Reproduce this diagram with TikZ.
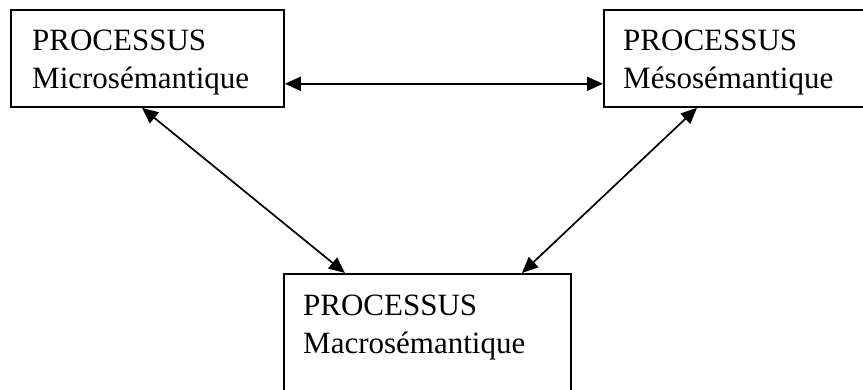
\documentclass[tikz,border=0pt]{standalone}
\usepackage{fontspec}
\setmainfont{Liberation Serif}
\usetikzlibrary{arrows.meta,calc}
\begin{document}
\begin{tikzpicture}[x=1pt,y=-1pt,
  procbox/.style={draw,line width=1.8pt,rectangle,inner sep=0pt,anchor=north west},
  proctext/.style={anchor=base west,inner sep=0pt,font=\fontsize{31}{37}\selectfont},
  link/.style={line width=1.7pt,{Triangle[length=16pt,width=14pt]}-{Triangle[length=16pt,width=14pt]}}]
\useasboundingbox (0,0) rectangle (863,390);
\clip (0,0) rectangle (863,390);
% the three process boxes
\node[procbox,minimum width=273pt,minimum height=97pt] (micro) at (10,9) {};
\node[procbox,minimum width=300pt,minimum height=97pt] (meso) at (603,9) {};
\node[procbox,minimum width=287pt,minimum height=140pt] (macro) at (283,273) {};
% their labels
\node[proctext] (microA) at (32,51) {PROCESSUS};
\node[proctext] (microB) at (32,89) {Microsémantique};
\node[proctext] (mesoA) at (623,51) {PROCESSUS};
\node[proctext] (mesoB) at (623,89) {Mésosémantique};
\node[proctext] (macroA) at (303,316) {PROCESSUS};
\node[proctext] (macroB) at (303,353) {Macrosémantique};
% two-way links between the processes
\draw[link] ($(micro.south east)+(0,-24)$) coordinate (h) -- (h -| meso.west);
\draw[link] ($(micro.south west)+(132,0)$) -- ($(macro.north west)+(62,0)$);
\draw[link] ($(meso.south west)+(94,0)$) -- ($(macro.north west)+(239,0)$);
\end{tikzpicture}
\end{document}
